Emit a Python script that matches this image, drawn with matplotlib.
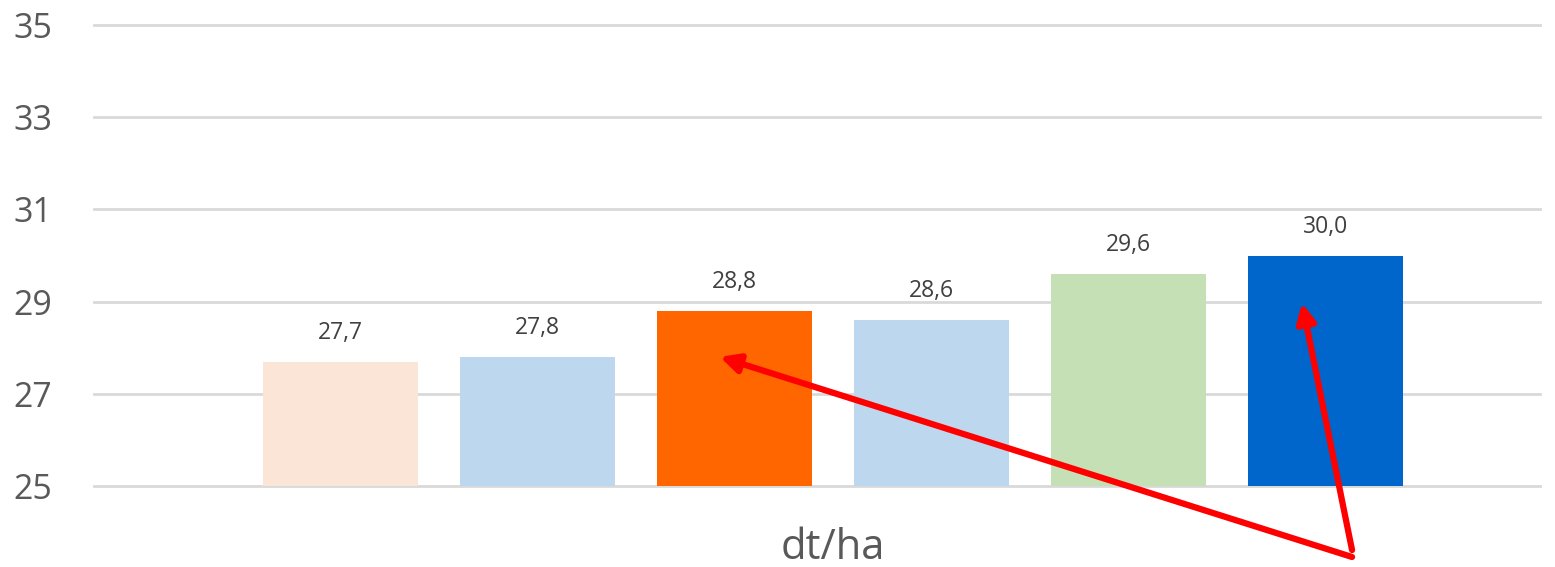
import numpy as np
import matplotlib.pyplot as plt
from matplotlib.transforms import blended_transform_factory

# yield per variant, dt/ha
values = [27.7, 27.8, 28.8, 28.6, 29.6, 30.0]
colors = ['#FBE5D6', '#BDD7EE', '#FF6600', '#BDD7EE', '#C5E0B4', '#0066CC']
category = 'dt/ha'
yticks = [25, 27, 29, 31, 33, 35]

plt.rcParams['font.family'] = ['Open Sans', 'DejaVu Sans']

fig = plt.figure(figsize=(15.55, 5.67), dpi=100)
ax = fig.add_axes([94 / 1555, 81 / 567, (1540 - 94) / 1555, (486 - 25) / 567])

x = np.arange(len(values))
base = yticks[0]
ax.bar(x, [v - base for v in values], bottom=base, width=0.787, color=colors, zorder=2)

for xi, v in zip(x, values):
    ax.annotate(f'{v:.1f}'.replace('.', ','), (xi, v), xytext=(0, 12), textcoords='offset points',
                ha='center', va='bottom', fontsize=16.5, color='#404040')

ax.set_ylim(25, 35)
ax.set_xlim(-1.251, 6.089)
ax.set_yticks(yticks)
ax.set_xticks([])
ax.yaxis.grid(True, color='#D9D9D9', linewidth=2, zorder=0)
for gl in ax.get_ygridlines():
    gl.set_clip_on(False)
ax.tick_params(axis='y', length=0, labelsize=24.5, labelcolor='#595959', pad=30)
for s in ax.spines.values():
    s.set_visible(False)

trans = blended_transform_factory(ax.transData, ax.transAxes)
ax.text(np.mean(x), -0.135, category, transform=trans, ha='center', va='center',
        fontsize=30, color='#595959')

# red pointer arrows from the bottom right
arrow = dict(arrowstyle='-|>', color='#FF0000', lw=4.5, mutation_scale=28, shrinkA=0, shrinkB=0)
ax.annotate('', xy=(1.926, 27.80), xytext=(5.135, 23.46), arrowprops=arrow, annotation_clip=False)
ax.annotate('', xy=(4.881, 28.97), xytext=(5.135, 23.61), arrowprops=arrow, annotation_clip=False)

fig.savefig('out.png', dpi=100)
